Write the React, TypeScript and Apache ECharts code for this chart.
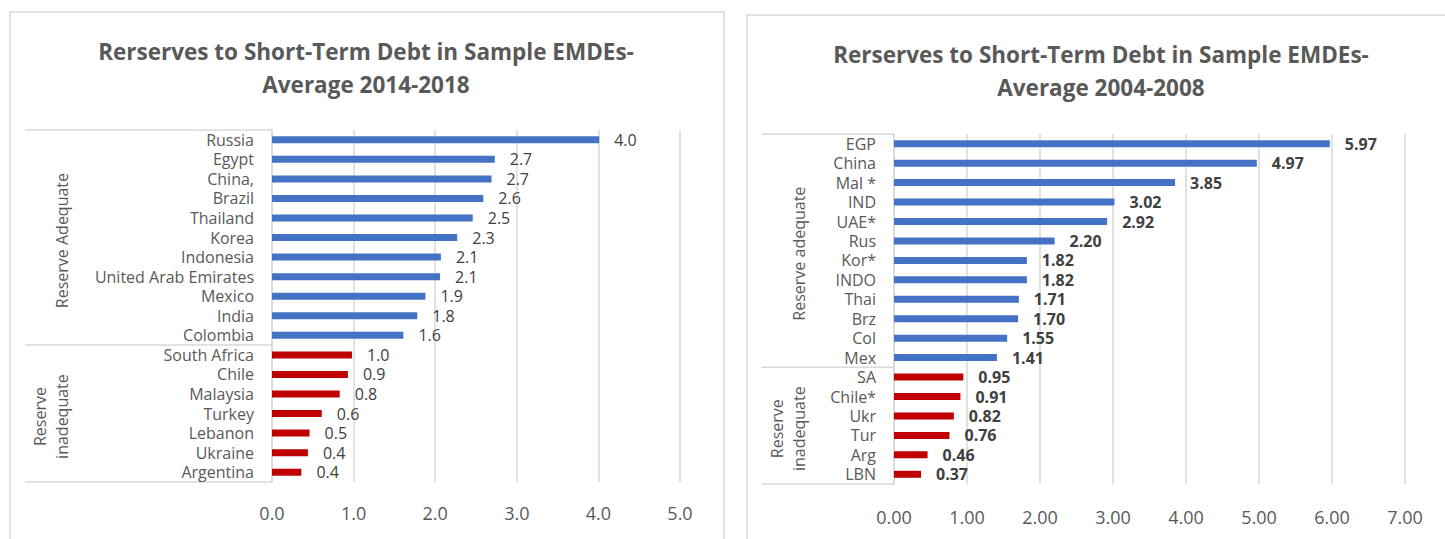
import React, { useEffect, useRef } from "react";
import * as echarts from "echarts";

// ---- Data ----
const titleA = "Rerserves to Short-Term Debt in Sample EMDEs-\nAverage 2014-2018";
const catsA = [
  "Russia", "Egypt", "China,", "Brazil", "Thailand", "Korea", "Indonesia",
  "United Arab Emirates", "Mexico", "India", "Colombia",
  "South Africa", "Chile", "Malaysia", "Turkey", "Lebanon", "Ukraine", "Argentina",
];
const valsA = [4.01, 2.73, 2.69, 2.59, 2.46, 2.27, 2.07, 2.06, 1.88, 1.78, 1.61, 0.98, 0.93, 0.83, 0.61, 0.46, 0.44, 0.36];
const adequateCountA = 11;
const groupsA = ["Reserve Adequate", "Reserve\ninadequate"];
const xMaxA = 5;

const titleB = "Rerserves to Short-Term Debt in Sample EMDEs-\nAverage 2004-2008";
const catsB = [
  "EGP", "China", "Mal *", "IND", "UAE*", "Rus", "Kor*", "INDO", "Thai", "Brz", "Col", "Mex",
  "SA", "Chile*", "Ukr", "Tur", "Arg", "LBN",
];
const valsB = [5.97, 4.97, 3.85, 3.02, 2.92, 2.2, 1.82, 1.82, 1.71, 1.7, 1.55, 1.41, 0.95, 0.91, 0.82, 0.76, 0.46, 0.37];
const adequateCountB = 12;
const groupsB = ["Reserve adequate", "Reserve\ninadequate"];
const xMaxB = 7;

const BLUE = "#4472C4";
const RED = "#C00000";
const GRID = "#D9D9D9";
const TEXT = "#595959";
const LABEL = "#404040";
const FONT = "'Open Sans', sans-serif";

export default function App() {
  const ref = useRef<HTMLDivElement>(null);

  useEffect(() => {
    document.body.style.margin = "0";
    const el = ref.current!;
    const chart = echarts.init(el, null, { renderer: "svg" });

    const mkX = (idx: number, max: number, dec: number, margin: number) => ({
      type: "value",
      gridIndex: idx,
      min: 0,
      max,
      interval: 1,
      axisLine: { show: false },
      axisTick: { show: false },
      splitLine: { show: true, lineStyle: { color: GRID, width: 1.5 } },
      axisLabel: {
        formatter: (v: number) => v.toFixed(dec),
        fontSize: 18,
        color: TEXT,
        fontFamily: FONT,
        margin,
      },
    });
    const mkY = (idx: number, cats: string[]) => ({
      type: "category",
      gridIndex: idx,
      data: cats,
      inverse: true,
      axisTick: { show: false },
      axisLine: { show: true, lineStyle: { color: GRID, width: 1.5 } },
      axisLabel: { interval: 0, fontSize: 16, lineHeight: 17, color: TEXT, fontFamily: FONT, margin: 18 },
    });
    const mkSeries = (idx: number, vals: number[], nAd: number, dec: number, bold: boolean) => ({
      type: "bar",
      xAxisIndex: idx,
      yAxisIndex: idx,
      barWidth: 7,
      data: vals.map((v, i) => ({ value: v, itemStyle: { color: i < nAd ? BLUE : RED } })),
      label: {
        show: true,
        position: "right",
        distance: 15,
        formatter: (p: any) => Number(p.value).toFixed(dec),
        fontSize: 16,
        lineHeight: 16,
        fontWeight: bold ? "bold" : "normal",
        color: LABEL,
        fontFamily: FONT,
      },
    });

    chart.setOption({
      animation: false,
      grid: [
        { left: 272, top: 130, width: 408, height: 352 },
        { left: 894, top: 134, width: 511, height: 350 },
      ],
      xAxis: [mkX(0, xMaxA, 1, 22), mkX(1, xMaxB, 2, 24)],
      yAxis: [mkY(0, catsA), mkY(1, catsB)],
      series: [
        mkSeries(0, valsA, adequateCountA, 1, false),
        mkSeries(1, valsB, adequateCountB, 2, true),
      ],
    });

    const graphics: any[] = [];
    // panels
    graphics.push({
      type: "rect", z: -10, silent: true,
      shape: { x: 10, y: 12, width: 714, height: 560 },
      style: { fill: "none", stroke: GRID, lineWidth: 1.5 },
    });
    graphics.push({
      type: "rect", z: -10, silent: true,
      shape: { x: 747, y: 15, width: 740, height: 560 },
      style: { fill: "none", stroke: GRID, lineWidth: 1.5 },
    });
    // titles
    const titleFont = `bold 22.5px ${FONT}`;
    graphics.push({
      type: "text", x: 366, y: 68,
      style: { text: titleA, font: titleFont, fill: TEXT, textAlign: "center", textVerticalAlign: "middle", lineHeight: 33 },
    });
    graphics.push({
      type: "text", x: 1101, y: 71,
      style: { text: titleB, font: titleFont, fill: TEXT, textAlign: "center", textVerticalAlign: "middle", lineHeight: 33 },
    });

    const addGroups = (gi: number, cats: string[], nAd: number, groups: string[], boxLeft: number) => {
      const y0 = chart.convertToPixel({ yAxisIndex: gi } as any, cats[0]) as number;
      const y1 = chart.convertToPixel({ yAxisIndex: gi } as any, cats[1]) as number;
      const band = y1 - y0;
      const top = y0 - band / 2;
      const mid = top + nAd * band;
      const bottom = top + cats.length * band;
      const axisX = chart.convertToPixel({ xAxisIndex: gi } as any, 0) as number;
      [top, mid, bottom].forEach((yy) => {
        graphics.push({
          type: "line", silent: true,
          shape: { x1: boxLeft, y1: yy, x2: axisX, y2: yy },
          style: { stroke: GRID, lineWidth: 1.5 },
        });
      });
      const spans = [
        [top, mid],
        [mid, bottom],
      ];
      groups.forEach((g, k) => {
        const cy = (spans[k][0] + spans[k][1]) / 2 + 3;
        const multi = g.indexOf("\n") >= 0;
        graphics.push({
          type: "text",
          x: boxLeft + (multi ? 26 : 37),
          y: cy,
          rotation: Math.PI / 2,
          style: {
            text: g, font: `16px ${FONT}`, fill: TEXT,
            textAlign: "center", textVerticalAlign: "middle", lineHeight: 22,
          },
        });
      });
    };
    addGroups(0, catsA, adequateCountA, groupsA, 25);
    addGroups(1, catsB, adequateCountB, groupsB, 762);

    chart.setOption({ graphic: graphics });

    return () => chart.dispose();
  }, []);

  return <div ref={ref} style={{ width: 1445, height: 539 }} />;
}
